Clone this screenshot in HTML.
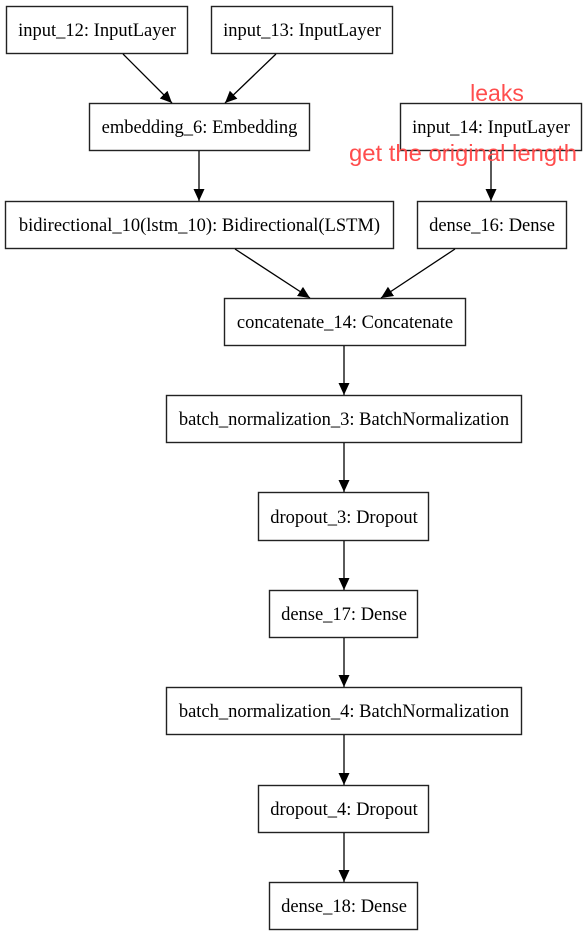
<!DOCTYPE html>
<html><head><meta charset="utf-8"><style>
html,body{margin:0;padding:0;background:#fff;}
svg{display:block;}
text{font-family:"Liberation Serif",serif;font-size:18.5px;fill:#000;}
.r{font-family:"Liberation Sans",sans-serif;fill:#ff4d4d;font-size:23px;}
</style></head><body>
<svg width="584" height="936" viewBox="0 0 584 936" xmlns="http://www.w3.org/2000/svg">
<defs><marker id="a" markerWidth="12" markerHeight="12" refX="12" refY="6" orient="auto" markerUnits="userSpaceOnUse"><path d="M0,0.5 L12,6 L0,11.5 z" fill="#000"/></marker></defs>
<g fill="none" stroke="#222" stroke-width="1.4">
<rect x="6.5" y="6.5" width="181" height="47"/>
<rect x="211.5" y="6.5" width="181" height="47"/>
<rect x="89.5" y="103.5" width="220" height="47"/>
<rect x="400.5" y="103.5" width="181" height="47"/>
<rect x="5.5" y="201.5" width="388" height="47"/>
<rect x="417.5" y="201.5" width="149" height="47"/>
<rect x="224.5" y="298.5" width="241" height="47"/>
<rect x="166.5" y="395.5" width="355" height="47"/>
<rect x="258.5" y="492.5" width="170" height="48"/>
<rect x="269.5" y="590.5" width="148" height="47"/>
<rect x="166.5" y="687.5" width="355" height="47"/>
<rect x="258.5" y="785.5" width="170" height="47"/>
<rect x="269.5" y="882.5" width="148" height="47"/>
</g>
<g stroke="#000" stroke-width="1.3" marker-end="url(#a)">
<line x1="123" y1="54" x2="172" y2="103"/>
<line x1="276" y1="54" x2="225" y2="103"/>
<line x1="199" y1="151" x2="199" y2="201"/>
<line x1="491" y1="151" x2="491" y2="201"/>
<line x1="235" y1="249" x2="310" y2="298"/>
<line x1="455" y1="249" x2="381" y2="298"/>
<line x1="344" y1="346" x2="344" y2="395"/>
<line x1="344" y1="443" x2="344" y2="492"/>
<line x1="344" y1="541" x2="344" y2="590"/>
<line x1="344" y1="638" x2="344" y2="687"/>
<line x1="344" y1="735" x2="344" y2="785"/>
<line x1="344" y1="833" x2="344" y2="882"/>
</g>
<g text-anchor="middle">
<text x="97" y="36">input_12: InputLayer</text>
<text x="302" y="36">input_13: InputLayer</text>
<text x="199.5" y="133">embedding_6: Embedding</text>
<text x="491" y="133">input_14: InputLayer</text>
<text x="199.5" y="231">bidirectional_10(lstm_10): Bidirectional(LSTM)</text>
<text x="492" y="231">dense_16: Dense</text>
<text x="345" y="328">concatenate_14: Concatenate</text>
<text x="344" y="425">batch_normalization_3: BatchNormalization</text>
<text x="344" y="523">dropout_3: Dropout</text>
<text x="344" y="620">dense_17: Dense</text>
<text x="344" y="717">batch_normalization_4: BatchNormalization</text>
<text x="344" y="815">dropout_4: Dropout</text>
<text x="344" y="912">dense_18: Dense</text>
<text class="r" x="497" y="101">leaks</text>
<text class="r" x="463" y="161" textLength="228" lengthAdjust="spacingAndGlyphs">get the original length</text>
</g>
</svg>
</body></html>
